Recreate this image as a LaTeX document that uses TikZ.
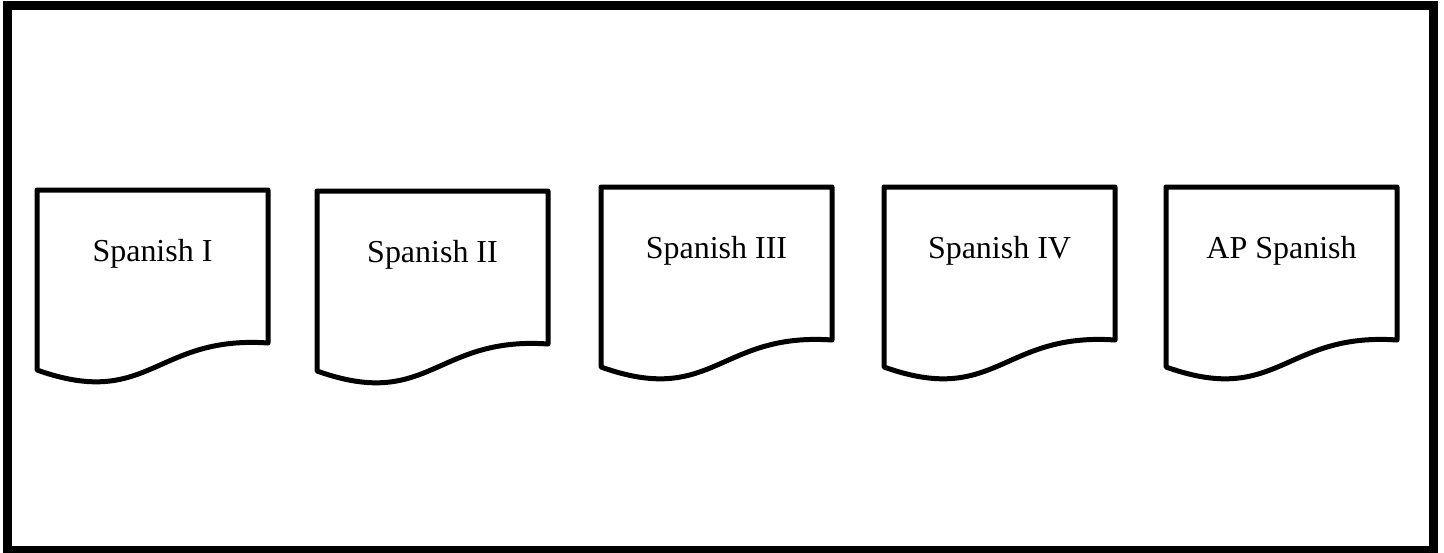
\documentclass[tikz,border=0pt]{standalone}
\usepackage{fontspec}
\setmainfont{Liberation Serif}
\usepackage{tikz}
\usetikzlibrary{positioning}
% outline of one course sheet, drawn from its top left corner
\newcommand{\sheet}{%
\draw[sheetline] (0,0) -- (231,0) -- (231,153)
  .. controls (118,145) and (112,220) .. (0,180) -- cycle;}

\begin{document}
\begin{tikzpicture}[x=0.02cm,y=-0.02cm,
  sheetline/.style={line width=0.1cm,line join=round},
  course/.style={anchor=base,inner sep=0pt,font=\fontsize{18.2}{22}\selectfont}]

\useasboundingbox (0,0) rectangle (1444,552);

\draw[line width=0.18cm] (7.5,5) rectangle (1433.5,550);


\begin{scope}[shift={(37,190)}]
\sheet
\node[course] (s1) at (115.5,71) {Spanish I};
\end{scope}


\begin{scope}[shift={(317,191)}]
\sheet
\node[course] (s2) at (115.5,71) {Spanish II};
\end{scope}


\begin{scope}[shift={(601,187)}]
\sheet
\node[course] (s3) at (115.5,71) {Spanish III};
\end{scope}


\begin{scope}[shift={(884,187)}]
\sheet
\node[course] (s4) at (115.5,71) {Spanish IV};
\end{scope}


\begin{scope}[shift={(1166,187)}]
\sheet
\node[course] (ap) at (115.5,71) {AP Spanish};
\end{scope}

\end{tikzpicture}
\end{document}
